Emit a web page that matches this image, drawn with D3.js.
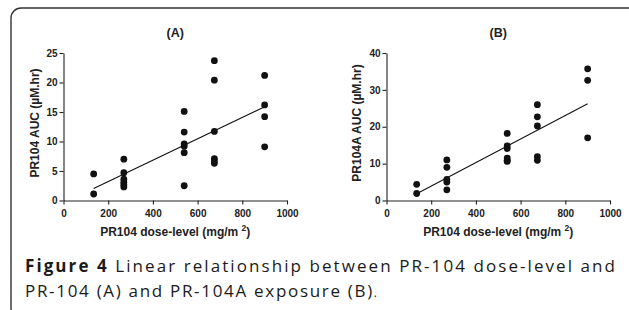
<!DOCTYPE html>
<html>
<head>
<meta charset="utf-8">
<script src="https://cdn.jsdelivr.net/npm/d3@7"></script>
<style>
  body { margin: 0; background: #fff; }
  svg { display: block; }
  .axis path, .axis line { stroke: #222; stroke-width: 1.1; }
  .axis text { font-family: "Liberation Sans", Arial, sans-serif; font-weight: bold; font-size: 10px; fill: #222; }
</style>
</head>
<body>
<div id="chart"></div>
<script>
// dose levels (mg/m2) and AUC readings for each panel
const doseA = [135, 135, 270, 270, 270, 270, 270, 270, 540, 540, 540, 540, 540, 540, 675, 675, 675, 675, 675, 675, 900, 900, 900, 900];
const aucA  = [4.5, 1.1, 7.0, 4.7, 3.6, 3.1, 2.7, 2.3, 15.1, 11.6, 9.6, 9.2, 8.1, 2.5, 23.7, 20.4, 11.7, 7.1, 6.7, 6.3, 21.2, 16.2, 14.2, 9.1];

const doseB = [135, 135, 270, 270, 270, 270, 270, 540, 540, 540, 540, 540, 540, 675, 675, 675, 675, 675, 900, 900, 900];
const aucB  = [4.4, 1.9, 11.0, 9.0, 5.7, 5.0, 2.9, 18.2, 14.8, 14.1, 11.5, 10.9, 10.6, 26.0, 22.7, 20.2, 11.9, 10.9, 35.7, 32.6, 17.0];

const xTicks = [0, 200, 400, 600, 800, 1000];
const yTicksA = [0, 5, 10, 15, 20, 25];
const yTicksB = [0, 10, 20, 30, 40];

const panels = [
    {title: "(A)", dose: doseA, auc: aucA, yMax: 25, yTicks: yTicksA, yLabel: "PR104 AUC (\u00b5M.hr)", left: 63.5, labelX: 35},
    {title: "(B)", dose: doseB, auc: aucB, yMax: 40, yTicks: yTicksB, yLabel: "PR104A AUC (\u00b5M.hr)", left: 386.5, labelX: 357}
];

const width = 629, height = 310;
const plotW = 223.5, plotTop = 53, plotBottom = 200.5;
const labelFont = "Liberation Sans, Arial, sans-serif";

const svg = d3.select("#chart").append("svg")
    .attr("width", width)
    .attr("height", height);

// frame round the figure, open past the right and bottom edges
svg.append("rect")
    .attr("x", 11).attr("y", 8)
    .attr("width", 630).attr("height", 310)
    .attr("rx", 10).attr("ry", 10)
    .attr("fill", "none")
    .attr("stroke", "#333")
    .attr("stroke-width", 1.4);

// least squares fit
function fitLine(xs, ys){
    const mx = d3.mean(xs), my = d3.mean(ys);
    let sxy = 0, sxx = 0;
    xs.forEach((x, i) => { sxy += (x - mx) * (ys[i] - my); sxx += (x - mx) * (x - mx); });
    const slope = sxy / sxx;
    return {slope: slope, intercept: my - slope * mx};
}

panels.forEach(p => {
    const x = d3.scaleLinear().domain([0, 1000]).range([p.left, p.left + plotW]);
    const y = d3.scaleLinear().domain([0, p.yMax]).range([plotBottom, plotTop]);
    const g = svg.append("g");

    g.append("g")
        .attr("class", "axis")
        .attr("transform", `translate(0,${plotBottom})`)
        .call(d3.axisBottom(x).tickValues(xTicks).tickFormat(d3.format("d"))
            .tickSize(4).tickSizeOuter(0).tickPadding(5));

    g.append("g")
        .attr("class", "axis")
        .attr("transform", `translate(${p.left},0)`)
        .call(d3.axisLeft(y).tickValues(p.yTicks).tickSize(4).tickSizeOuter(0).tickPadding(2));

    g.append("text")
        .attr("x", p.left + plotW / 2)
        .attr("y", 36.5)
        .attr("text-anchor", "middle")
        .attr("font-family", labelFont)
        .attr("font-weight", "bold")
        .attr("font-size", 12.5)
        .attr("fill", "#222")
        .text(p.title);

    g.append("text")
        .attr("transform", `translate(${p.labelX},123) rotate(-90)`)
        .attr("text-anchor", "middle")
        .attr("dy", "0.35em")
        .attr("font-family", labelFont)
        .attr("font-weight", "bold")
        .attr("font-size", 12)
        .attr("fill", "#222")
        .text(p.yLabel);

    const xl = g.append("text")
        .attr("x", p.left + plotW / 2)
        .attr("y", 236)
        .attr("text-anchor", "middle")
        .attr("font-family", labelFont)
        .attr("font-weight", "bold")
        .attr("font-size", 12)
        .attr("fill", "#222");
    xl.append("tspan").text("PR104 dose-level (mg/m ");
    xl.append("tspan").attr("dy", -5).attr("font-size", 8.5).text("2");
    xl.append("tspan").attr("dy", 5).text(")");

    const fit = fitLine(p.dose, p.auc);
    const x0 = d3.min(p.dose), x1 = d3.max(p.dose);
    g.append("line")
        .attr("x1", x(x0)).attr("y1", y(fit.intercept + fit.slope * x0))
        .attr("x2", x(x1)).attr("y2", y(fit.intercept + fit.slope * x1))
        .attr("stroke", "#111")
        .attr("stroke-width", 1.1);

    g.selectAll("circle")
        .data(p.dose.map((d, i) => ({x: d, y: p.auc[i]})))
        .join("circle")
        .attr("cx", d => x(d.x))
        .attr("cy", d => y(d.y))
        .attr("r", 3.4)
        .attr("fill", "#111");
});

// caption: the source typesets it wide, so stretch both lines to their measured extent
const capFont = "'Open Sans', 'Noto Sans', sans-serif";
const capSize = 17;
const capLeft = 25;
const cap1 = svg.append("text")
    .attr("x", capLeft).attr("y", 272)
    .attr("font-family", capFont)
    .attr("font-size", capSize)
    .attr("fill", "#1a1a1a")
    .attr("textLength", 615 - capLeft)
    .attr("lengthAdjust", "spacing");
cap1.append("tspan").attr("font-weight", "bold").text("Figure 4");
cap1.append("tspan").text(" Linear relationship between PR-104 dose-level and");

const cap2 = svg.append("text")
    .attr("x", capLeft).attr("y", 297)
    .attr("font-family", capFont)
    .attr("font-size", capSize)
    .attr("fill", "#1a1a1a")
    .attr("textLength", 377 - capLeft)
    .attr("lengthAdjust", "spacing");
cap2.append("tspan").text("PR-104 (A) and PR-104A exposure (B)");
cap2.append("tspan").attr("font-size", 12).text(".");
</script>
</body>
</html>
